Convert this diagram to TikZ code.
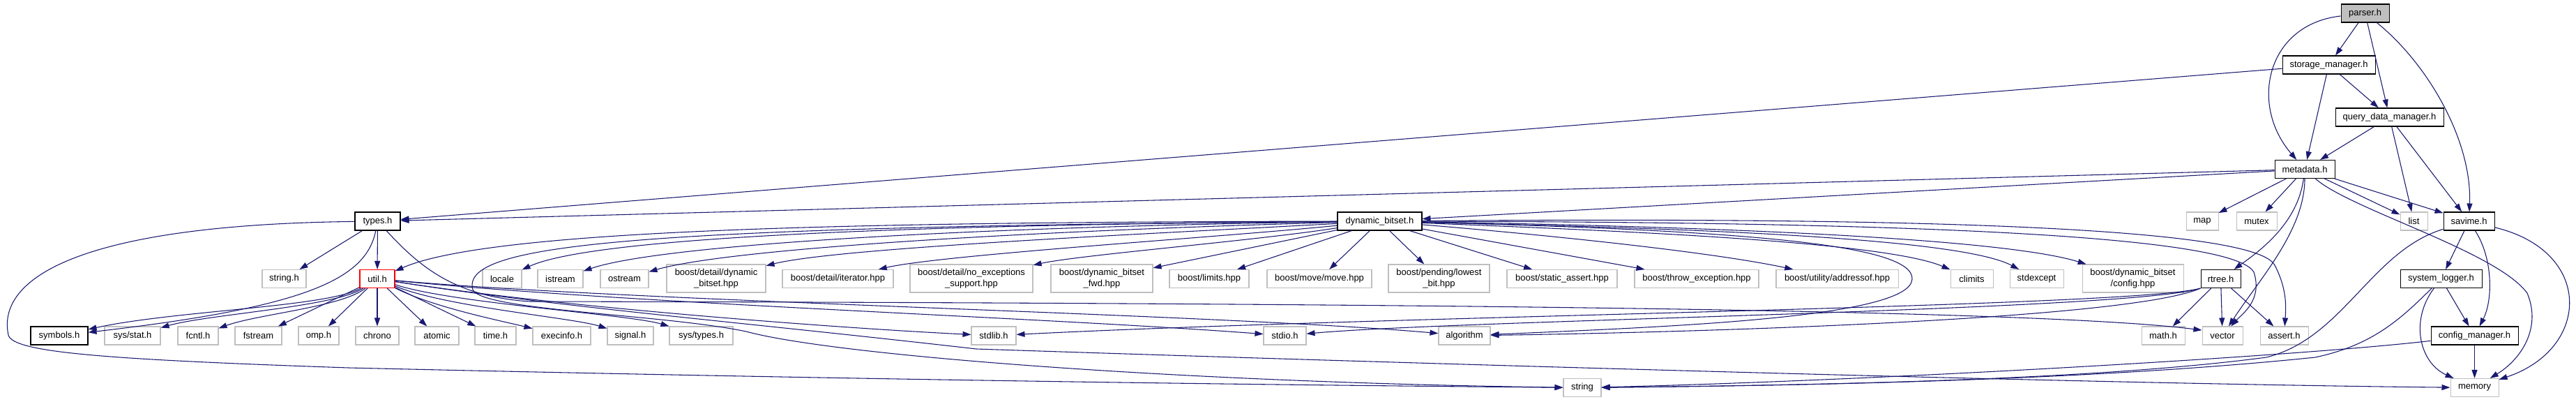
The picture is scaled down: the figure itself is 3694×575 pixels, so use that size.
\documentclass[tikz,border=0pt]{standalone}
\usepackage{fontspec}
\setmainfont{Liberation Sans}
\usetikzlibrary{arrows.meta}
\definecolor{edgeblue}{HTML}{191970}
\definecolor{sysgray}{HTML}{BFBFBF}
\tikzset{
  basebox/.style={rectangle, inner sep=0pt, align=center, font=\fontsize{9.75}{11.5}\selectfont, line width=0.8pt},
  sysbox/.style={basebox, draw=sysgray, fill=white},
  docbox/.style={basebox, draw=black, fill=white},
  redbox/.style={basebox, draw=red, fill=white},
  rootbox/.style={basebox, draw=black, fill=sysgray},
  dep/.style={draw=edgeblue, line width=0.8pt, -{Triangle[length=9pt,width=6pt]}}
}
\newcommand{\dnode}[7]{\node[#6, minimum width={#4*0.75pt}, minimum height={#5*0.75pt}] (#1) at (#2,#3) {#7};}
\begin{document}
\begin{tikzpicture}[x=0.75pt, y=-0.75pt]
\fill[white] (0,0) rectangle (3694,575);
\useasboundingbox (0,0) rectangle (3694,575);

% rank 0-3
\dnode{parser}{3391.5}{19}{69}{26}{rootbox}{parser.h}
\dnode{storage}{3339.5}{93}{133}{26}{docbox}{storage\_manager.h}
\dnode{query}{3426.5}{168}{155}{26}{docbox}{query\_data\_manager.h}
\dnode{metadata}{3305}{242.5}{86}{26}{docbox}{metadata.h}
% rank 4
\dnode{types}{541.5}{317}{65}{26}{docbox}{types.h}
\dnode{dyn}{1978.5}{317}{121}{26}{docbox}{dynamic\_bitset.h}
\dnode{map}{3158}{317}{46}{26}{sysbox}{map}
\dnode{mutex}{3236}{317}{58}{26}{sysbox}{mutex}
\dnode{list}{3461.5}{317}{39}{26}{sysbox}{list}
\dnode{savime}{3540.5}{317}{73}{26}{docbox}{savime.h}
% rank 5
\dnode{stringh}{407.5}{399.5}{63}{26}{sysbox}{string.h}
\dnode{util}{541}{399.5}{50}{26}{redbox}{util.h}
\dnode{locale}{720}{399.5}{56}{26}{sysbox}{locale}
\dnode{istream}{803.5}{399.5}{65}{26}{sysbox}{istream}
\dnode{ostream}{895.5}{399.5}{69}{26}{sysbox}{ostream}
\dnode{bddb}{1027}{399}{142}{40}{sysbox}{boost/detail/dynamic\\\_bitset.hpp}
\dnode{biter}{1201.5}{399.5}{159}{26}{sysbox}{boost/detail/iterator.hpp}
\dnode{bnoex}{1393}{399}{176}{40}{sysbox}{boost/detail/no\_exceptions\\\_support.hpp}
\dnode{bfwd}{1580}{399}{146}{40}{sysbox}{boost/dynamic\_bitset\\\_fwd.hpp}
\dnode{blim}{1734}{399.5}{114}{26}{sysbox}{boost/limits.hpp}
\dnode{bmove}{1892}{399.5}{150}{26}{sysbox}{boost/move/move.hpp}
\dnode{blow}{2063.5}{399}{145}{40}{sysbox}{boost/pending/lowest\\\_bit.hpp}
\dnode{bsa}{2240}{399.5}{158}{26}{sysbox}{boost/static\_assert.hpp}
\dnode{bthrow}{2433}{399.5}{178}{26}{sysbox}{boost/throw\_exception.hpp}
\dnode{baddr}{2634.5}{399.5}{175}{26}{sysbox}{boost/utility/addressof.hpp}
\dnode{climits}{2827.5}{399.5}{61}{26}{sysbox}{climits}
\dnode{stdexcept}{2920.5}{399.5}{77}{26}{sysbox}{stdexcept}
\dnode{bcfg}{3058.5}{399}{145}{40}{sysbox}{boost/dynamic\_bitset\\/config.hpp}
\dnode{rtree}{3184.5}{399.5}{57}{26}{docbox}{rtree.h}
\dnode{syslog}{3500.5}{399.5}{117}{26}{docbox}{system\_logger.h}
% rank 6
\dnode{symbols}{85}{481}{82}{26}{docbox}{symbols.h}
\dnode{sysstat}{190}{481}{80}{26}{sysbox}{sys/stat.h}
\dnode{fcntl}{284}{481}{58}{26}{sysbox}{fcntl.h}
\dnode{fstream}{370.5}{481}{67}{26}{sysbox}{fstream}
\dnode{omp}{457}{481}{58}{26}{sysbox}{omp.h}
\dnode{chrono}{541}{481}{62}{26}{sysbox}{chrono}
\dnode{atomic}{626.5}{481}{63}{26}{sysbox}{atomic}
\dnode{timeh}{710.5}{481}{59}{26}{sysbox}{time.h}
\dnode{execinfo}{805.5}{481}{83}{26}{sysbox}{execinfo.h}
\dnode{signal}{904}{481}{66}{26}{sysbox}{signal.h}
\dnode{systypes}{1005.5}{481}{91}{26}{sysbox}{sys/types.h}
\dnode{stdlib}{1425}{481}{64}{26}{sysbox}{stdlib.h}
\dnode{stdio}{1842.5}{481}{61}{26}{sysbox}{stdio.h}
\dnode{algorithm}{2100}{481}{74}{26}{sysbox}{algorithm}
\dnode{math}{3102}{481}{62}{26}{sysbox}{math.h}
\dnode{vector}{3187}{481}{58}{26}{sysbox}{vector}
\dnode{assert}{3275.5}{481}{69}{26}{sysbox}{assert.h}
\dnode{cfgmgr}{3548.5}{481}{125}{26}{docbox}{config\_manager.h}
% rank 7
\dnode{string}{2269}{555.5}{54}{26}{sysbox}{string}
\dnode{memory}{3548.5}{555.5}{69}{26}{sysbox}{memory}

% parser.h
\draw[dep] (parser) -- (storage);
\draw[dep] (parser) -- (query);
\draw[dep] (parser) .. controls (3250,35) and (3225,150) .. (metadata);
\draw[dep] (parser) .. controls (3480,90) and (3545,200) .. (savime);
% storage_manager.h
\draw[dep] (storage) -- (query);
\draw[dep] (storage) -- (metadata);
\draw[dep] (storage) -- (types);
% query_data_manager.h
\draw[dep] (query) -- (metadata);
\draw[dep] (query) -- (list);
\draw[dep] (query) -- (savime);
% metadata.h
\draw[dep] (metadata) -- (types);
\draw[dep] (metadata) -- (dyn);
\draw[dep] (metadata) -- (map);
\draw[dep] (metadata) -- (mutex);
\draw[dep] (metadata) -- (list);
\draw[dep] (metadata) -- (savime);
\draw[dep] (metadata) .. controls (3295,320) and (3240,360) .. (rtree);
\draw[dep] (metadata) .. controls (3305,330) and (3240,400) .. (vector);
\draw[dep] (metadata) .. controls (3370,300) and (3580,360) .. (3624,420) .. controls (3645,470) and (3615,515) .. (memory);
% types.h
\draw[dep] (types) -- (stringh);
\draw[dep] (types) -- (util);
\draw[dep] (types) .. controls (525,400) and (440,440) .. (symbols);
\draw[dep] (types) .. controls (110,322) and (-5,400) .. (12,480) .. controls (18,505) and (150,515) .. (500,527) .. controls (1400,548) and (2000,553) .. (string);
\draw[dep] (types) .. controls (600,380) and (650,425) .. (760,432) .. controls (1800,434) and (2900,440) .. (vector.165);
% util.h
\draw[dep] (util) .. controls (470,440) and (250,445) .. (symbols);
\draw[dep] (util) .. controls (480,440) and (300,450) .. (sysstat);
\draw[dep] (util) .. controls (490,440) and (370,450) .. (fcntl);
\draw[dep] (util) -- (fstream);
\draw[dep] (util) -- (omp);
\draw[dep] (util) -- (chrono);
\draw[dep] (util) -- (atomic);
\draw[dep] (util) -- (timeh);
\draw[dep] (util) .. controls (620,440) and (720,460) .. (execinfo);
\draw[dep] (util) .. controls (640,440) and (820,455) .. (signal);
\draw[dep] (util) .. controls (650,435) and (900,450) .. (systypes);
\draw[dep] (util) .. controls (800,440) and (1200,470) .. (stdlib);
\draw[dep] (util) .. controls (900,435) and (1500,455) .. (stdio);
\draw[dep] (util) .. controls (900,432) and (1750,450) .. (algorithm);
\draw[dep] (util) .. controls (800,440) and (1050,460) .. (1400,500) .. controls (2000,520) and (3000,550) .. (memory);
% dynamic_bitset.h
\draw[dep] (dyn) .. controls (1200,318) and (700,330) .. (util);
\draw[dep] (dyn) .. controls (1300,322) and (850,340) .. (locale);
\draw[dep] (dyn) .. controls (1400,325) and (950,350) .. (istream);
\draw[dep] (dyn) .. controls (1500,330) and (1050,355) .. (ostream);
\draw[dep] (dyn) .. controls (1650,335) and (1200,355) .. (bddb);
\draw[dep] (dyn) .. controls (1750,340) and (1350,365) .. (biter);
\draw[dep] (dyn) .. controls (1800,345) and (1550,365) .. (bnoex);
\draw[dep] (dyn) -- (bfwd);
\draw[dep] (dyn) -- (blim);
\draw[dep] (dyn) -- (bmove);
\draw[dep] (dyn) -- (blow);
\draw[dep] (dyn) -- (bsa);
\draw[dep] (dyn) -- (bthrow);
\draw[dep] (dyn) .. controls (2200,335) and (2450,360) .. (baddr);
\draw[dep] (dyn) .. controls (2300,330) and (2700,345) .. (climits);
\draw[dep] (dyn) .. controls (2300,325) and (2800,335) .. (stdexcept);
\draw[dep] (dyn) .. controls (2300,322) and (2850,335) .. (bcfg);
\draw[dep] (dyn) .. controls (2600,318) and (3200,330) .. (3232,390) .. controls (3245,430) and (3215,450) .. (vector);
\draw[dep] (dyn) .. controls (2600,312) and (3230,318) .. (3262,380) .. controls (3280,415) and (3278,440) .. (assert);
\draw[dep] (dyn) .. controls (2500,330) and (2745,350) .. (2742,400) .. controls (2739,455) and (2400,468) .. (algorithm);
\draw[dep] (dyn) .. controls (900,325) and (660,350) .. (678,415) .. controls (690,445) and (950,450) .. (1070,475) .. controls (1200,510) and (1700,548) .. (string);
% rtree.h
\draw[dep] (rtree) -- (math);
\draw[dep] (rtree) -- (vector);
\draw[dep] (rtree) -- (assert);
\draw[dep] (rtree.south west) .. controls (3060,440) and (2000,452) .. (stdlib);
\draw[dep] (rtree.south west) .. controls (3060,445) and (2100,458) .. (stdio);
\draw[dep] (rtree.south west) .. controls (3060,455) and (2500,475) .. (algorithm);
% savime.h
\draw[dep] (savime) -- (syslog);
\draw[dep] (savime) .. controls (3575,370) and (3575,430) .. (cfgmgr);
\draw[dep] (savime) .. controls (3720,360) and (3715,500) .. (memory);
\draw[dep] (savime) .. controls (3400,360) and (3360,485) .. (3250,512) .. controls (3000,545) and (2600,552) .. (string);
% system_logger.h
\draw[dep] (syslog) -- (cfgmgr);
\draw[dep] (syslog) .. controls (3455,460) and (3470,520) .. (memory);
\draw[dep] (syslog) .. controls (3440,460) and (3400,495) .. (3320,512) .. controls (3000,545) and (2600,552) .. (string);
% config_manager.h
\draw[dep] (cfgmgr) -- (memory);
\draw[dep] (cfgmgr) .. controls (3300,510) and (2700,545) .. (string);
\end{tikzpicture}
\end{document}
